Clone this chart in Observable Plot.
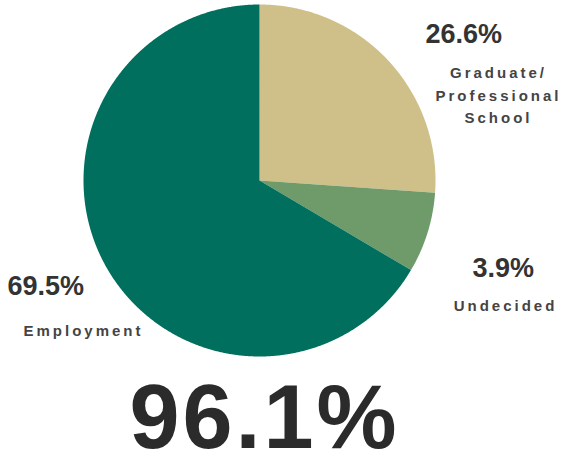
<!DOCTYPE html>
<html><head><meta charset="utf-8">
<script src="https://cdn.jsdelivr.net/npm/d3@7"></script>
<script src="https://cdn.jsdelivr.net/npm/@observablehq/plot@0.6"></script>
<style>
body{margin:0;background:#fff}
</style>
</head><body><div id="chart"></div>
<script>
// Data
const categories = ["Graduate/\nProfessional\nSchool", "Undecided", "Employment"];
const shares = [26.1, 7.4, 66.5];            // slice sizes as drawn in the picture
const percentLabels = ["26.6%", "3.9%", "69.5%"];
const totalLabel = "96.1%";
const colors = ["#cfc08a", "#6f9b6b", "#006f5d"];

// Layout (pixels)
const W = 562, H = 459, CX = 259, CY = 180, R = 176;
const pctPos = [[425, 23], [472, 257], [7, 275]];
const namePos = [[498, 62], [505, 295], [83, 320]];
const totalPos = [264, 384];

const toX = px => (px - CX) / R;
const toY = py => (CY - py) / R;

const arcs = d3.pie().sort(null).value(d => d)(shares);
const pts = [];
arcs.forEach((a, i) => {
  pts.push({k: categories[i], x: 0, y: 0});
  const n = Math.ceil((a.endAngle - a.startAngle) / 0.005);
  for (let j = 0; j <= n; j++) {
    const t = a.startAngle + (a.endAngle - a.startAngle) * j / n;
    pts.push({k: categories[i], x: Math.sin(t), y: Math.cos(t)});
  }
});

const pctData = percentLabels.map((t, i) => ({t, x: toX(pctPos[i][0]), y: toY(pctPos[i][1])}));
const nameData = categories.map((t, i) => ({t, x: toX(namePos[i][0]), y: toY(namePos[i][1])}));
const totData = [{t: totalLabel, x: toX(totalPos[0]), y: toY(totalPos[1])}];

const font = "'Liberation Sans', Arial, sans-serif";
const chart = Plot.plot({
  width: W, height: H,
  margin: 0,
  x: {domain: [toX(0), toX(W)], axis: null},
  y: {domain: [toY(H), toY(0)], axis: null},
  color: {domain: categories, range: colors},
  style: {fontFamily: font, background: "#fff"},
  marks: [
    Plot.line(pts, {x: "x", y: "y", z: "k", fill: "k", stroke: "none", curve: "linear"}),
    Plot.text(pctData, {x: "x", y: "y", text: "t", textAnchor: "start", lineAnchor: "top",
      fontSize: 27, fontWeight: "bold", fill: "#333"}),
    Plot.text(nameData, {x: "x", y: "y", text: "t", textAnchor: "middle", lineAnchor: "top",
      lineHeight: 1.5, fontSize: 15, fontWeight: "bold", fill: "#444", ariaDescription: "names"}),
    Plot.text(totData, {x: "x", y: "y", text: "t", textAnchor: "middle", lineAnchor: "top",
      fontSize: 90, fontWeight: "bold", fill: "#2b2b2b", ariaDescription: "total"})
  ]
});
document.getElementById("chart").appendChild(chart);
d3.select(chart).selectAll('g[aria-description="names"] text').style("letter-spacing", "3px");
d3.select(chart).selectAll('g[aria-description="total"] text').style("letter-spacing", "3px");
</script>
</body></html>
